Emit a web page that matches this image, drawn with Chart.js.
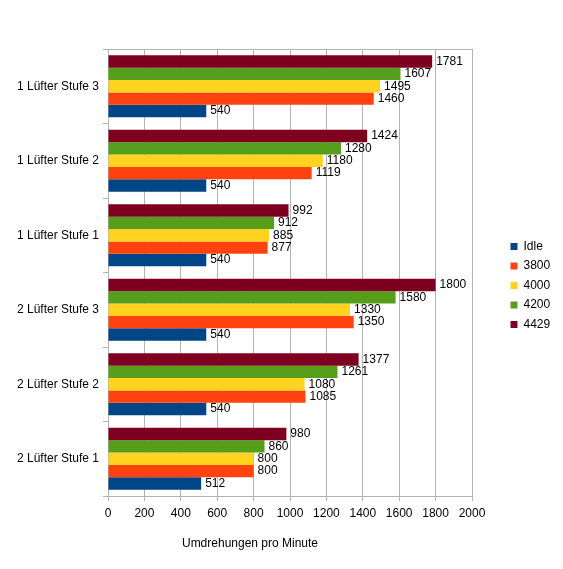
<!DOCTYPE html>
<html>
<head>
<meta charset="utf-8">
<script src="https://cdn.jsdelivr.net/npm/chart.js@4"></script>
<style>
  html, body { margin: 0; padding: 0; background: #fff; }
  #wrap { width: 563px; height: 569px; }
</style>
</head>
<body>
<div id="wrap"><canvas id="chart"></canvas></div>
<script>
// categories, top to bottom
const categories = ['1 Lüfter Stufe 3', '1 Lüfter Stufe 2', '1 Lüfter Stufe 1',
                    '2 Lüfter Stufe 3', '2 Lüfter Stufe 2', '2 Lüfter Stufe 1'];

// series values (rpm)
const idle = [540, 540, 540, 540, 540, 512];
const s3800 = [1460, 1119, 877, 1350, 1085, 800];
const s4000 = [1495, 1180, 885, 1330, 1080, 800];
const s4200 = [1607, 1280, 912, 1580, 1261, 860];
const s4429 = [1781, 1424, 992, 1800, 1377, 980];

const xTicks = [0, 200, 400, 600, 800, 1000, 1200, 1400, 1600, 1800, 2000];
const axisTitle = 'Umdrehungen pro Minute';

const FONT = 'Liberation Sans, Arial, sans-serif';
const GRID = '#b3b3b3';
const LEGEND_W = 81;

// datasets listed top-to-bottom inside a group, legend is reversed
const datasets = [
    { label: '4429', data: s4429, backgroundColor: '#7e0021' },
    { label: '4200', data: s4200, backgroundColor: '#579d1c' },
    { label: '4000', data: s4000, backgroundColor: '#ffd320' },
    { label: '3800', data: s3800, backgroundColor: '#ff420e' },
    { label: 'Idle', data: idle, backgroundColor: '#004586' }
].map(d => Object.assign(d, { barPercentage: 1.0, categoryPercentage: 0.83, borderWidth: 0 }));

// value labels at the end of each bar
const valueLabels = {
    id: 'valueLabels',
    afterDatasetsDraw(chart) {
        const ctx = chart.ctx;
        ctx.save();
        ctx.font = '12px ' + FONT;
        ctx.fillStyle = '#000';
        ctx.textAlign = 'left';
        ctx.textBaseline = 'middle';
        chart.data.datasets.forEach((ds, i) => {
            chart.getDatasetMeta(i).data.forEach((el, j) => {
                ctx.fillText(String(ds.data[j]), el.x + 4, el.y);
            });
        });
        ctx.restore();
    }
};

// fixed legend width so the plot ends where the original does,
// then nudge the legend box into place
const legendPlace = {
    id: 'legendPlace',
    beforeLayout(chart) {
        const lg = chart.legend;
        if (lg && !lg._fixed) {
            const fit = lg.fit.bind(lg);
            lg.fit = function () { fit(); this.width = LEGEND_W; };
            lg._fixed = true;
        }
    },
    afterLayout(chart) {
        const lg = chart.legend;
        if (!lg) return;
        lg.left += 31; lg.right += 31;
        lg.top -= 2; lg.bottom -= 2;
    }
};

// frame on top of the plot area + axis title
const frame = {
    id: 'frame',
    afterDraw(chart) {
        const { ctx, chartArea: a } = chart;
        ctx.save();
        ctx.strokeStyle = GRID;
        ctx.lineWidth = 1;
        ctx.beginPath();
        ctx.moveTo(a.left, a.top + 0.5);
        ctx.lineTo(a.right, a.top + 0.5);
        ctx.stroke();
        ctx.font = '12px ' + FONT;
        ctx.fillStyle = '#000';
        ctx.textAlign = 'center';
        ctx.textBaseline = 'middle';
        ctx.fillText(axisTitle, 250, 544);
        ctx.restore();
    }
};

new Chart(document.getElementById('chart'), {
    type: 'bar',
    data: { labels: categories, datasets: datasets },
    plugins: [legendPlace, valueLabels, frame],
    options: {
        indexAxis: 'y',
        responsive: true,
        maintainAspectRatio: false,
        animation: false,
        layout: { padding: { top: 49, right: 10, bottom: 43, left: 0 } },
        plugins: {
            tooltip: { enabled: false },
            legend: {
                position: 'right',
                align: 'center',
                reverse: true,
                labels: {
                    boxWidth: 7,
                    boxHeight: 7,
                    padding: 7.5,
                    color: '#000',
                    font: { family: FONT, size: 12 }
                }
            }
        },
        scales: {
            x: {
                min: 0,
                max: 2000,
                afterBuildTicks(scale) { scale.ticks = xTicks.map(v => ({ value: v })); },
                afterFit(scale) { scale.height = 30; },
                grid: { color: GRID, tickLength: 5, tickColor: GRID },
                border: { color: GRID },
                ticks: {
                    color: '#000', font: { family: FONT, size: 12 }, padding: 5, maxRotation: 0,
                    callback: v => String(v)
                }
            },
            y: {
                afterFit(scale) { scale.width = 108; },
                grid: { drawOnChartArea: false, offset: true, tickLength: 5, color: GRID },
                border: { color: GRID },
                ticks: { color: '#000', font: { family: FONT, size: 12 }, padding: 4 }
            }
        }
    }
});
</script>
</body>
</html>
